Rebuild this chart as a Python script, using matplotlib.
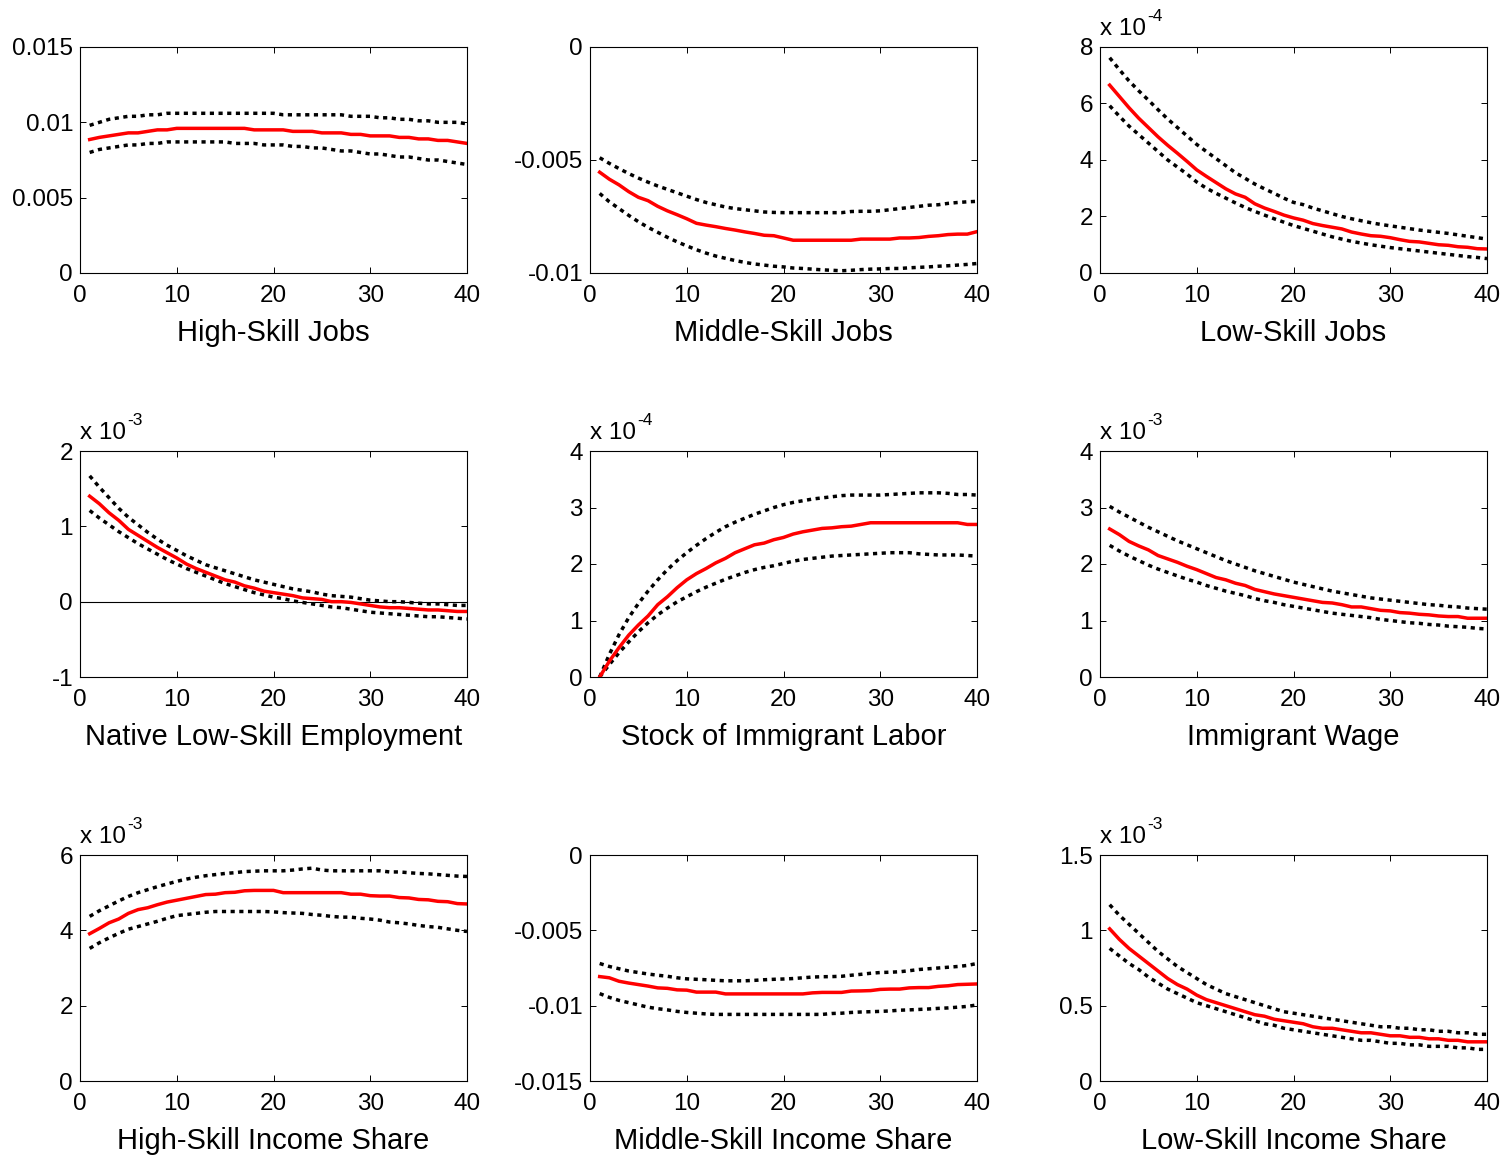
import numpy as np
import matplotlib
matplotlib.use('Agg')
import matplotlib.pyplot as plt

plt.rcParams['font.family'] = ['Liberation Sans', 'DejaVu Sans']

periods = np.arange(1, 41)

titles = ['High-Skill Jobs', 'Middle-Skill Jobs', 'Low-Skill Jobs',
          'Native Low-Skill Employment', 'Stock of Immigrant Labor', 'Immigrant Wage',
          'High-Skill Income Share', 'Middle-Skill Income Share', 'Low-Skill Income Share']

# values in units of 1e-3 for panels 1, 2, 8 (axes show raw numbers)
hs_jobs_mid = [8.86, 9.0, 9.1, 9.2, 9.3, 9.3, 9.4, 9.5, 9.5, 9.6, 9.6, 9.6, 9.6, 9.6, 9.6, 9.6, 9.6, 9.5, 9.5, 9.5,
               9.5, 9.4, 9.4, 9.4, 9.3, 9.3, 9.3, 9.2, 9.2, 9.1, 9.1, 9.1, 9.0, 9.0, 8.9, 8.9, 8.8, 8.8, 8.7, 8.6]
hs_jobs_up = [9.8, 10.0, 10.2, 10.3, 10.4, 10.4, 10.5, 10.5, 10.6, 10.6, 10.6, 10.6, 10.6, 10.6, 10.6, 10.6, 10.6, 10.6, 10.6, 10.6,
              10.5, 10.5, 10.5, 10.5, 10.5, 10.5, 10.5, 10.4, 10.4, 10.4, 10.3, 10.3, 10.2, 10.2, 10.1, 10.1, 10.0, 10.0, 10.0, 9.9]
hs_jobs_lo = [8.0, 8.2, 8.3, 8.4, 8.5, 8.5, 8.6, 8.6, 8.7, 8.7, 8.7, 8.7, 8.7, 8.7, 8.7, 8.6, 8.6, 8.6, 8.5, 8.5,
              8.5, 8.4, 8.4, 8.3, 8.3, 8.2, 8.1, 8.1, 8.0, 7.9, 7.9, 7.8, 7.7, 7.7, 7.6, 7.5, 7.5, 7.4, 7.3, 7.2]

ms_jobs_mid = [-5.54, -5.85, -6.1, -6.4, -6.65, -6.8, -7.05, -7.25, -7.42, -7.6, -7.8, -7.88, -7.95, -8.03, -8.1, -8.18, -8.25, -8.33, -8.35, -8.45,
               -8.55, -8.55, -8.55, -8.55, -8.55, -8.55, -8.55, -8.5, -8.5, -8.5, -8.5, -8.45, -8.45, -8.43, -8.38, -8.35, -8.3, -8.28, -8.28, -8.17]
ms_jobs_up = [-4.9, -5.15, -5.38, -5.6, -5.8, -5.98, -6.15, -6.3, -6.45, -6.6, -6.75, -6.88, -6.98, -7.08, -7.15, -7.2, -7.25, -7.3, -7.32, -7.33,
              -7.33, -7.33, -7.33, -7.33, -7.33, -7.33, -7.28, -7.27, -7.27, -7.25, -7.2, -7.15, -7.1, -7.05, -7.0, -6.98, -6.92, -6.88, -6.85, -6.83]
ms_jobs_lo = [-6.48, -6.85, -7.15, -7.45, -7.73, -7.98, -8.2, -8.42, -8.62, -8.8, -8.97, -9.12, -9.25, -9.35, -9.45, -9.53, -9.6, -9.65, -9.7, -9.73,
              -9.78, -9.8, -9.83, -9.86, -9.88, -9.9, -9.88, -9.85, -9.83, -9.82, -9.8, -9.8, -9.77, -9.75, -9.73, -9.7, -9.68, -9.65, -9.62, -9.58]

# x 10^-4
ls_jobs_mid = [6.65, 6.25, 5.85, 5.48, 5.15, 4.82, 4.52, 4.24, 3.95, 3.65, 3.42, 3.2, 2.98, 2.8, 2.68, 2.45, 2.3, 2.18, 2.05, 1.95,
               1.87, 1.75, 1.68, 1.62, 1.56, 1.45, 1.38, 1.32, 1.3, 1.25, 1.18, 1.12, 1.1, 1.05, 1.0, 0.98, 0.93, 0.91, 0.86, 0.85]
ls_jobs_up = [7.62, 7.2, 6.8, 6.45, 6.12, 5.78, 5.45, 5.15, 4.85, 4.55, 4.3, 4.05, 3.8, 3.55, 3.35, 3.15, 2.98, 2.82, 2.65, 2.5,
              2.42, 2.3, 2.2, 2.1, 2.0, 1.92, 1.85, 1.78, 1.72, 1.67, 1.62, 1.57, 1.52, 1.48, 1.44, 1.4, 1.35, 1.3, 1.25, 1.2]
ls_jobs_lo = [5.92, 5.55, 5.2, 4.9, 4.6, 4.3, 4.0, 3.75, 3.5, 3.22, 3.0, 2.82, 2.65, 2.48, 2.32, 2.18, 2.05, 1.92, 1.8, 1.68,
              1.58, 1.48, 1.38, 1.28, 1.2, 1.12, 1.06, 1.0, 0.95, 0.9, 0.86, 0.82, 0.78, 0.74, 0.7, 0.66, 0.62, 0.58, 0.55, 0.51]

# x 10^-3
native_mid = [1.40, 1.30, 1.18, 1.08, 0.96, 0.88, 0.80, 0.72, 0.65, 0.58, 0.50, 0.44, 0.39, 0.34, 0.29, 0.26, 0.21, 0.18, 0.14, 0.12,
              0.10, 0.08, 0.05, 0.04, 0.03, 0.0, 0.0, -0.01, -0.03, -0.05, -0.07, -0.08, -0.08, -0.09, -0.10, -0.11, -0.11, -0.12, -0.13, -0.13]
native_up = [1.67, 1.52, 1.38, 1.24, 1.12, 1.02, 0.92, 0.83, 0.75, 0.68, 0.61, 0.55, 0.49, 0.45, 0.41, 0.37, 0.33, 0.29, 0.26, 0.23,
             0.2, 0.17, 0.15, 0.13, 0.1, 0.08, 0.07, 0.06, 0.04, 0.02, 0.01, 0.0, 0.0, -0.01, -0.02, -0.03, -0.03, -0.04, -0.05, -0.05]
native_lo = [1.21, 1.11, 1.02, 0.93, 0.85, 0.77, 0.70, 0.63, 0.56, 0.5, 0.44, 0.39, 0.34, 0.29, 0.24, 0.2, 0.16, 0.12, 0.09, 0.06,
             0.04, 0.01, -0.01, -0.03, -0.05, -0.07, -0.08, -0.1, -0.12, -0.14, -0.15, -0.16, -0.17, -0.18, -0.19, -0.2, -0.2, -0.21, -0.22, -0.23]

# x 10^-4
stock_mid = [0.0, 0.28, 0.52, 0.74, 0.92, 1.08, 1.28, 1.42, 1.58, 1.72, 1.83, 1.92, 2.02, 2.1, 2.2, 2.27, 2.34, 2.37, 2.43, 2.47,
             2.53, 2.57, 2.6, 2.63, 2.64, 2.66, 2.67, 2.7, 2.73, 2.73, 2.73, 2.73, 2.73, 2.73, 2.73, 2.73, 2.73, 2.73, 2.7, 2.7]
stock_up = [0.0, 0.4, 0.75, 1.05, 1.3, 1.52, 1.72, 1.9, 2.06, 2.2, 2.33, 2.45, 2.56, 2.66, 2.74, 2.81, 2.88, 2.94, 3.0, 3.05,
            3.09, 3.12, 3.15, 3.17, 3.19, 3.21, 3.22, 3.22, 3.22, 3.22, 3.23, 3.24, 3.25, 3.26, 3.26, 3.26, 3.25, 3.23, 3.23, 3.22]
stock_lo = [0.0, 0.22, 0.43, 0.62, 0.8, 0.96, 1.1, 1.22, 1.33, 1.42, 1.51, 1.59, 1.66, 1.73, 1.79, 1.85, 1.9, 1.94, 1.97, 2.01,
            2.05, 2.08, 2.1, 2.12, 2.14, 2.15, 2.16, 2.17, 2.18, 2.19, 2.2, 2.2, 2.2, 2.18, 2.17, 2.16, 2.16, 2.16, 2.15, 2.14]

# x 10^-3
wage_mid = [2.62, 2.52, 2.4, 2.32, 2.25, 2.15, 2.09, 2.03, 1.96, 1.9, 1.83, 1.76, 1.72, 1.66, 1.62, 1.55, 1.51, 1.47, 1.44, 1.41,
            1.38, 1.35, 1.32, 1.31, 1.28, 1.24, 1.24, 1.21, 1.18, 1.17, 1.14, 1.13, 1.11, 1.1, 1.08, 1.07, 1.07, 1.04, 1.04, 1.04]
wage_up = [3.02, 2.92, 2.83, 2.74, 2.65, 2.57, 2.49, 2.41, 2.34, 2.27, 2.2, 2.13, 2.06, 2.0, 1.94, 1.88, 1.83, 1.78, 1.73, 1.68,
           1.64, 1.6, 1.56, 1.52, 1.49, 1.46, 1.43, 1.4, 1.38, 1.36, 1.34, 1.32, 1.3, 1.28, 1.27, 1.25, 1.24, 1.22, 1.21, 1.2]
wage_lo = [2.33, 2.23, 2.14, 2.06, 1.98, 1.91, 1.85, 1.79, 1.73, 1.68, 1.62, 1.57, 1.52, 1.48, 1.44, 1.39, 1.35, 1.32, 1.28, 1.25,
           1.22, 1.19, 1.16, 1.13, 1.11, 1.09, 1.07, 1.05, 1.02, 1.0, 0.98, 0.96, 0.95, 0.93, 0.92, 0.9, 0.89, 0.88, 0.86, 0.85]

# x 10^-3
hs_share_mid = [3.91, 4.05, 4.2, 4.3, 4.45, 4.55, 4.6, 4.68, 4.75, 4.8, 4.85, 4.9, 4.95, 4.96, 5.0, 5.01, 5.05, 5.06, 5.06, 5.06,
                5.0, 5.0, 5.0, 5.0, 5.0, 5.0, 5.0, 4.96, 4.96, 4.92, 4.91, 4.91, 4.87, 4.86, 4.82, 4.81, 4.77, 4.76, 4.71, 4.7]
hs_share_up = [4.37, 4.52, 4.65, 4.78, 4.9, 5.0, 5.08, 5.16, 5.23, 5.3, 5.36, 5.41, 5.45, 5.48, 5.51, 5.53, 5.56, 5.57, 5.58, 5.58,
               5.58, 5.6, 5.63, 5.65, 5.6, 5.58, 5.58, 5.58, 5.58, 5.58, 5.58, 5.55, 5.55, 5.53, 5.51, 5.5, 5.48, 5.46, 5.44, 5.43]
hs_share_lo = [3.52, 3.67, 3.8, 3.92, 4.03, 4.1, 4.17, 4.24, 4.32, 4.39, 4.42, 4.45, 4.48, 4.5, 4.5, 4.5, 4.5, 4.5, 4.5, 4.49,
               4.47, 4.46, 4.45, 4.42, 4.4, 4.37, 4.35, 4.35, 4.32, 4.3, 4.27, 4.22, 4.2, 4.17, 4.13, 4.1, 4.08, 4.04, 4.0, 3.97]

ms_share_mid = [-8.07, -8.15, -8.38, -8.5, -8.6, -8.7, -8.82, -8.85, -8.95, -8.97, -9.1, -9.1, -9.1, -9.22, -9.22, -9.22, -9.22, -9.22, -9.22, -9.22,
                -9.22, -9.22, -9.15, -9.12, -9.12, -9.12, -9.03, -9.02, -9.0, -8.92, -8.9, -8.9, -8.82, -8.8, -8.8, -8.72, -8.68, -8.6, -8.58, -8.56]
ms_share_up = [-7.2, -7.4, -7.55, -7.7, -7.8, -7.9, -7.98, -8.05, -8.15, -8.22, -8.25, -8.28, -8.32, -8.35, -8.35, -8.35, -8.32, -8.28, -8.25, -8.23,
               -8.2, -8.15, -8.1, -8.08, -8.07, -8.05, -7.98, -7.92, -7.85, -7.8, -7.78, -7.75, -7.68, -7.6, -7.55, -7.5, -7.45, -7.4, -7.33, -7.2]
ms_share_lo = [-9.2, -9.45, -9.65, -9.8, -9.95, -10.1, -10.2, -10.28, -10.38, -10.45, -10.5, -10.55, -10.58, -10.58, -10.58, -10.58, -10.58, -10.58, -10.58, -10.58,
               -10.58, -10.58, -10.58, -10.58, -10.52, -10.5, -10.45, -10.42, -10.4, -10.38, -10.35, -10.3, -10.28, -10.25, -10.22, -10.18, -10.15, -10.1, -10.05, -9.95]

# x 10^-3
ls_share_mid = [1.01, 0.94, 0.88, 0.83, 0.78, 0.73, 0.68, 0.64, 0.61, 0.57, 0.54, 0.52, 0.5, 0.48, 0.46, 0.44, 0.43, 0.41, 0.4, 0.39,
                0.38, 0.36, 0.35, 0.35, 0.34, 0.33, 0.32, 0.32, 0.31, 0.3, 0.3, 0.29, 0.29, 0.28, 0.28, 0.27, 0.27, 0.26, 0.26, 0.26]
ls_share_up = [1.17, 1.1, 1.04, 0.98, 0.92, 0.86, 0.81, 0.76, 0.72, 0.68, 0.64, 0.61, 0.58, 0.56, 0.54, 0.52, 0.5, 0.48, 0.46, 0.45,
               0.44, 0.43, 0.42, 0.41, 0.4, 0.39, 0.38, 0.37, 0.36, 0.36, 0.35, 0.35, 0.34, 0.34, 0.33, 0.33, 0.32, 0.32, 0.31, 0.31]
ls_share_lo = [0.88, 0.83, 0.78, 0.74, 0.69, 0.65, 0.61, 0.58, 0.55, 0.52, 0.5, 0.48, 0.46, 0.44, 0.42, 0.4, 0.38, 0.37, 0.35, 0.34,
               0.33, 0.32, 0.31, 0.3, 0.29, 0.28, 0.27, 0.27, 0.26, 0.25, 0.25, 0.24, 0.24, 0.23, 0.23, 0.23, 0.22, 0.22, 0.21, 0.21]

series = [(hs_jobs_mid, hs_jobs_up, hs_jobs_lo), (ms_jobs_mid, ms_jobs_up, ms_jobs_lo), (ls_jobs_mid, ls_jobs_up, ls_jobs_lo),
          (native_mid, native_up, native_lo), (stock_mid, stock_up, stock_lo), (wage_mid, wage_up, wage_lo),
          (hs_share_mid, hs_share_up, hs_share_lo), (ms_share_mid, ms_share_up, ms_share_lo), (ls_share_mid, ls_share_up, ls_share_lo)]

# scale applied to stored numbers, multiplier text shown above axis
scales = [1e-3, 1e-3, 1, 1, 1, 1, 1, 1e-3, 1]
multipliers = [None, None, '-4', '-3', '-4', '-3', '-3', None, '-3']
ylims = [(0, 0.015), (-0.01, 0), (0, 8), (-1, 2), (0, 4), (0, 4), (0, 6), (-0.015, 0), (0, 1.5)]
yticks = [[0, 0.005, 0.01, 0.015], [-0.01, -0.005, 0], [0, 2, 4, 6, 8], [-1, 0, 1, 2], [0, 1, 2, 3, 4],
          [0, 1, 2, 3, 4], [0, 2, 4, 6], [-0.015, -0.01, -0.005, 0], [0, 0.5, 1, 1.5]]
yticklabels = [['0', '0.005', '0.01', '0.015'], ['-0.01', '-0.005', '0'], ['0', '2', '4', '6', '8'], ['-1', '0', '1', '2'],
               ['0', '1', '2', '3', '4'], ['0', '1', '2', '3', '4'], ['0', '2', '4', '6'],
               ['-0.015', '-0.01', '-0.005', '0'], ['0', '0.5', '1', '1.5']]

W, H = 1511, 1159
fig = plt.figure(figsize=(W / 100, H / 100), dpi=100)

col_left = [80, 590, 1100]
row_top = [47, 451, 855]
aw, ah = 387, 226

for i in range(9):
    r, c = divmod(i, 3)
    ax = fig.add_axes([col_left[c] / W, 1 - (row_top[r] + ah) / H, aw / W, ah / H])
    mid, up, lo = series[i]
    s = scales[i]
    if i == 3:
        ax.axhline(0, color='black', lw=0.8)
    ax.plot(periods, np.array(up) * s, color='black', lw=2.5, linestyle=(0, (1.2, 1.3)))
    ax.plot(periods, np.array(lo) * s, color='black', lw=2.5, linestyle=(0, (1.2, 1.3)))
    ax.plot(periods, np.array(mid) * s, color='red', lw=2.5)
    ax.set_xlim(0, 40)
    ax.set_ylim(*ylims[i])
    ax.set_xticks([0, 10, 20, 30, 40])
    ax.set_yticks(yticks[i])
    ax.set_yticklabels(yticklabels[i])
    ax.tick_params(direction='in', length=4, width=0.7, top=True, right=True, labelsize=17.5)
    ax.tick_params(axis='x', pad=8.5)
    ax.tick_params(axis='y', pad=5)
    for sp in ax.spines.values():
        sp.set_linewidth(0.8)
    ax.set_xlabel(titles[i], fontsize=21, labelpad=9)
    if multipliers[i]:
        t = ax.text(0.0, 1.03, 'x 10', transform=ax.transAxes,
                    fontsize=17.5, ha='left', va='bottom')
        ax.annotate(multipliers[i], xy=(1.0, 0.72), xycoords=t, xytext=(1, 0),
                    textcoords='offset points', fontsize=12.5, ha='left', va='bottom')

fig.savefig('out.png', dpi=100)
